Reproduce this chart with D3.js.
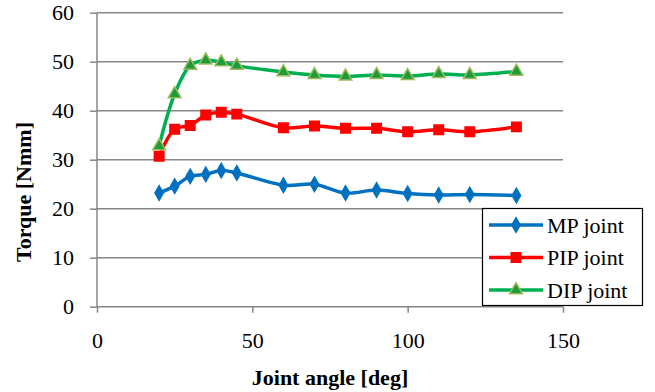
<!DOCTYPE html>
<html>
<head>
<meta charset="utf-8">
<script src="https://cdn.jsdelivr.net/npm/d3@7"></script>
<style>
  body { margin: 0; background: #fff; }
  svg { display: block; }
</style>
</head>
<body>
<script>
// data
var angles = [20, 25, 30, 35, 40, 45, 60, 70, 80, 90, 100, 110, 120, 135];
var mpTorque  = [23.2, 24.6, 26.6, 27.0, 27.8, 27.3, 24.8, 25.0, 23.2, 23.8, 23.1, 22.8, 22.9, 22.7];
var pipTorque = [30.7, 36.2, 37.0, 39.1, 39.7, 39.3, 36.5, 36.9, 36.4, 36.4, 35.7, 36.1, 35.7, 36.7];
var dipTorque = [32.8, 43.4, 49.2, 50.3, 49.9, 49.2, 47.9, 47.3, 47.0, 47.3, 47.1, 47.5, 47.3, 48.0];
var seriesNames = ["MP joint", "PIP joint", "DIP joint"];
var xTicks = [0, 50, 100, 150];
var yTicks = [0, 10, 20, 30, 40, 50, 60];

const WIDTH = 655;
const HEIGHT = 392;
const LEFT = 97, RIGHT = 563, TOP = 12.7, BOTTOM = 306.7;
const SERIF = "Times New Roman, Liberation Serif, DejaVu Serif, serif";

var series = [
    {name: seriesNames[0], values: mpTorque,  color: "#0070C0", symbol: d3.symbolDiamond,  size: 60, fill: "#0070C0", stroke: "#0070C0"},
    {name: seriesNames[1], values: pipTorque, color: "#FF0000", symbol: d3.symbolSquare,   size: 90, fill: "#FF0000", stroke: "#FF0000"},
    {name: seriesNames[2], values: dipTorque, color: "#00B050", symbol: d3.symbolTriangle, size: 70, fill: "#1E9A3C", stroke: "#9BBB59"}
];

var xScale = d3.scaleLinear().domain([0, 150]).range([LEFT, RIGHT]);
var yScale = d3.scaleLinear().domain([0, 60]).range([BOTTOM, TOP]);

var svg = d3.select("body")
    .append("svg")
    .attr("width", WIDTH)
    .attr("height", HEIGHT)
    .attr("font-family", SERIF);

// gridlines
svg.append("g")
    .selectAll("line")
    .data(yTicks.filter(t => t > 0))
    .enter()
    .append("line")
    .attr("x1", LEFT)
    .attr("x2", RIGHT)
    .attr("y1", d => yScale(d))
    .attr("y2", d => yScale(d))
    .attr("stroke", "#868686")
    .attr("stroke-width", 1.5);

// y axis
var yAxis = svg.append("g")
    .attr("transform", `translate(${LEFT},0)`)
    .call(d3.axisLeft(yScale).tickValues(yTicks).tickSize(7).tickPadding(16));
// x axis
var xAxis = svg.append("g")
    .attr("transform", `translate(0,${BOTTOM})`)
    .call(d3.axisBottom(xScale).tickValues(xTicks).tickSize(6).tickPadding(20));

[yAxis, xAxis].forEach(function(ax) {
    ax.attr("font-family", SERIF).attr("font-size", 22);
    ax.select(".domain").attr("stroke", "#868686").attr("stroke-width", 1.5);
    ax.selectAll(".tick line").attr("stroke", "#868686").attr("stroke-width", 1.5);
    ax.selectAll(".tick text").attr("fill", "#000");
});
xAxis.select(".domain").attr("d", `M${LEFT},0H${RIGHT}`);
yAxis.select(".domain").attr("d", `M0,${BOTTOM}V${TOP}`);

// lines
var line = d3.line()
    .x(d => xScale(d[0]))
    .y(d => yScale(d[1]))
    .curve(d3.curveCatmullRom);

series.forEach(function(s) {
    var pts = angles.map((a, i) => [a, s.values[i]]);
    svg.append("path")
        .datum(pts)
        .attr("d", line)
        .attr("fill", "none")
        .attr("stroke", s.color)
        .attr("stroke-width", 3.5);
    svg.append("g")
        .selectAll("path")
        .data(pts)
        .enter()
        .append("path")
        .attr("d", d3.symbol().type(s.symbol).size(s.size))
        .attr("transform", d => `translate(${xScale(d[0])},${yScale(d[1])})`)
        .attr("fill", s.fill)
        .attr("stroke", s.stroke)
        .attr("stroke-width", 1.5);
});

// axis titles
svg.append("text")
    .text("Joint angle [deg]")
    .attr("x", 330)
    .attr("y", 385)
    .attr("text-anchor", "middle")
    .attr("font-weight", "bold")
    .attr("font-size", 22);

svg.append("text")
    .text("Torque [Nmm]")
    .attr("transform", "translate(31,192) rotate(-90)")
    .attr("text-anchor", "middle")
    .attr("font-weight", "bold")
    .attr("font-size", 22);

// legend
var legend = svg.append("g");
legend.append("rect")
    .attr("x", 482.5)
    .attr("y", 208.5)
    .attr("width", 160)
    .attr("height", 97)
    .attr("fill", "#fff")
    .attr("stroke", "#000")
    .attr("stroke-width", 1.2);

var entries = legend.selectAll("g.entry")
    .data(series)
    .enter()
    .append("g")
    .attr("class", "entry")
    .attr("transform", (d, i) => `translate(0,${225 + i * 32.5})`);
entries.append("line")
    .attr("x1", 489)
    .attr("x2", 543)
    .attr("stroke", d => d.color)
    .attr("stroke-width", 3.5);
entries.append("path")
    .attr("d", d => d3.symbol().type(d.symbol).size(d.size)())
    .attr("transform", "translate(516,0)")
    .attr("fill", d => d.fill)
    .attr("stroke", d => d.stroke)
    .attr("stroke-width", 1.5);
entries.append("text")
    .text(d => d.name)
    .attr("x", 547)
    .attr("y", 7.5)
    .attr("font-size", 22);
</script>
</body>
</html>
